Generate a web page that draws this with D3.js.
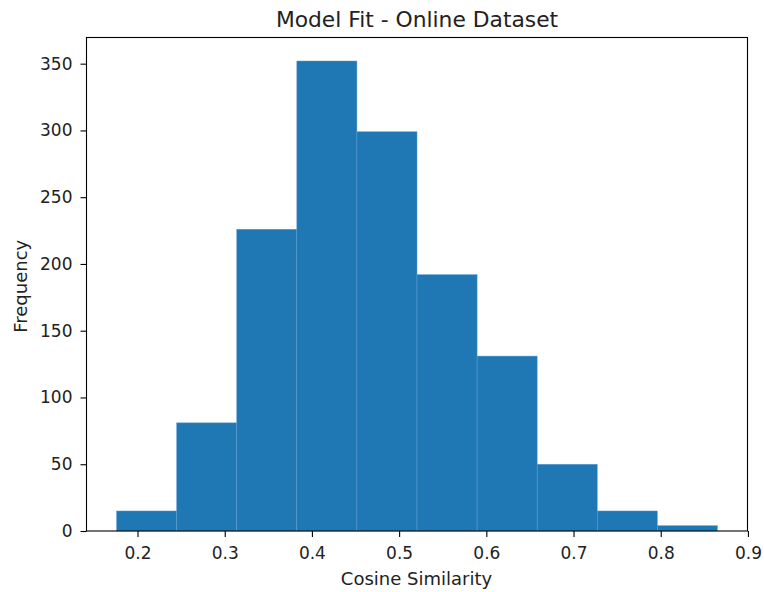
<!DOCTYPE html>
<html>
<head>
<meta charset="utf-8">
<script src="https://cdn.jsdelivr.net/npm/d3@7"></script>
<style>
  html, body { margin: 0; padding: 0; background: #fff; }
  svg { display: block; font-family: "DejaVu Sans", sans-serif; }
</style>
</head>
<body>
<svg id="chart" width="764" height="592"></svg>
<script>
// ---- data ----
const binStart = 0.176;
const binWidth = 0.0689;
const counts = [15, 81, 226, 352, 299, 192, 131, 50, 15, 4];
const xTicks = [0.2, 0.3, 0.4, 0.5, 0.6, 0.7, 0.8, 0.9];
const yTicks = [0, 50, 100, 150, 200, 250, 300, 350];
const title = "Model Fit - Online Dataset";
const xLabel = "Cosine Similarity";
const yLabel = "Frequency";

const bins = counts.map((c, i) => ({
  x0: binStart + i * binWidth,
  x1: binStart + (i + 1) * binWidth,
  count: c
}));

// ---- layout ----
const mLeft = 86.5, mRight = 747.5, mTop = 37.5, mBottom = 531;
const svg = d3.select("#chart");

const x = d3.scaleLinear().domain([0.1415, 0.8995]).range([mLeft, mRight]);
const y = d3.scaleLinear().domain([0, 369.6]).range([mBottom, mTop]);

// bars
svg.append("g").selectAll("rect").data(bins).join("rect")
  .attr("x", d => x(d.x0))
  .attr("width", d => x(d.x1) - x(d.x0))
  .attr("y", d => y(d.count))
  .attr("height", d => y(0) - y(d.count))
  .attr("fill", "#1f77b4")
  .attr("stroke", "#5f9fd2")
  .attr("stroke-width", 0.5);

// axes
const xAxis = d3.axisBottom(x).tickValues(xTicks).tickFormat(d3.format(".1f")).tickSize(6).tickPadding(10);
const yAxis = d3.axisLeft(y).tickValues(yTicks).tickFormat(d3.format("d")).tickSize(6).tickPadding(8);

const gx = svg.append("g").attr("transform", `translate(0,${mBottom})`).call(xAxis);
const gy = svg.append("g").attr("transform", `translate(${mLeft},0)`).call(yAxis);
[gx, gy].forEach(g => {
  g.select(".domain").remove();
  g.selectAll(".tick line").attr("stroke", "#000").attr("stroke-width", 1.1);
  g.selectAll(".tick text").attr("fill", "#222").style("font-size", "17px").style("font-family", "'DejaVu Sans', sans-serif");
});

// frame
svg.append("rect")
  .attr("x", mLeft).attr("y", mTop)
  .attr("width", mRight - mLeft).attr("height", mBottom - mTop)
  .attr("fill", "none").attr("stroke", "#000").attr("stroke-width", 1.1);

// title & labels
svg.append("text").attr("x", (mLeft + mRight) / 2).attr("y", 27)
  .attr("text-anchor", "middle").attr("fill", "#222").style("font-size", "21.8px").text(title);
svg.append("text").attr("x", (mLeft + mRight) / 2 - 0.5).attr("y", 585)
  .attr("text-anchor", "middle").attr("fill", "#222").style("font-size", "18px").text(xLabel);
svg.append("text")
  .attr("transform", `translate(26.5,${(mTop + mBottom) / 2 + 2}) rotate(-90)`)
  .attr("text-anchor", "middle").attr("fill", "#222").style("font-size", "18px").text(yLabel);
</script>
</body>
</html>
